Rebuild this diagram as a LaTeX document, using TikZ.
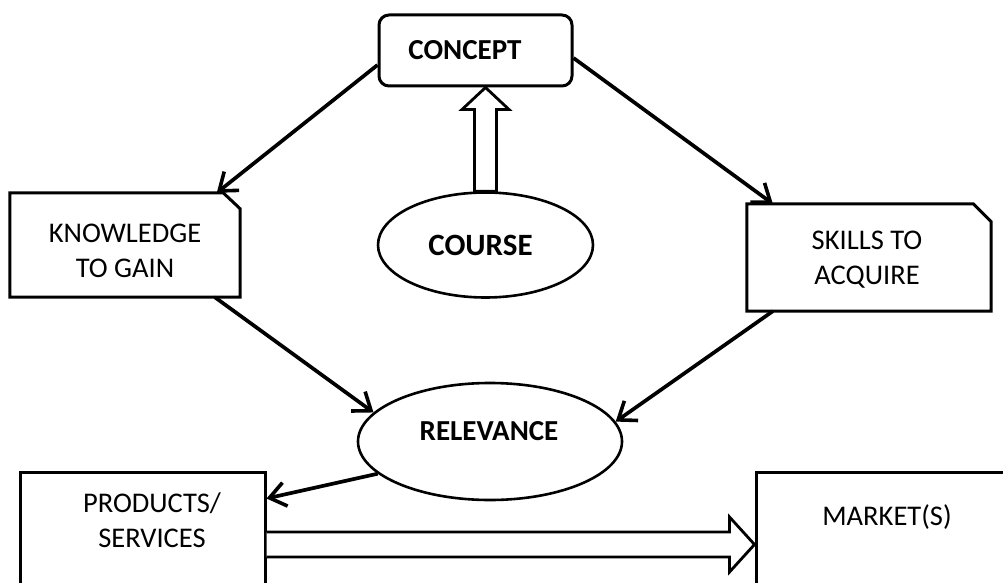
\documentclass[tikz,border=0pt]{standalone}
\usepackage{fontspec}
\setmainfont{Carlito}
\usetikzlibrary{arrows.meta,shapes.geometric,calc}
\begin{document}
\begin{tikzpicture}[x=1pt,y=-1pt,
  boxline/.style={line width=3pt},
  plainbox/.style={draw, boxline, rectangle, inner sep=0pt, fill=white},
  shapebox/.style={rectangle, inner sep=0pt},
  oval/.style={draw, line width=2.6pt, ellipse, inner sep=0pt, fill=white},
  regtext/.style={font=\fontsize{28.5}{35}\selectfont, align=center, inner sep=0pt},
  boldtext/.style={font=\fontsize{29}{35}\selectfont\bfseries, inner sep=0pt},
  link/.style={line width=3.7pt, -{Straight Barb[length=16pt,width=24pt,line width=3.6pt]}},
  hollow/.style={draw, fill=white, line width=2.8pt, line join=miter}
]
\useasboundingbox (0,0) rectangle (1003,583);
\clip (0,0) rectangle (1003,583);

% concept box at the top
\node[plainbox, rounded corners=10pt, minimum width=193pt, minimum height=71pt] (concept) at (475.5,50.5) {};
\node[boldtext, anchor=base] (concepttxt) at (465,59.5) {CONCEPT};

% course ellipse
\node[oval, minimum width=215pt, minimum height=105pt] (course) at (485.5,245) {};
\node[font=\fontsize{31}{35}\selectfont\bfseries, inner sep=0pt, anchor=base] (coursetxt) at (480.5,255) {COURSE};

% side boxes with a cut top-right corner
\node[shapebox, minimum width=230pt, minimum height=104pt] (know) at (125,245) {};
\draw[boxline, fill=white] (know.north west) -- ([xshift=-17pt]know.north east)
  -- ([yshift=-16pt]know.north east) -- (know.south east) -- (know.south west) -- cycle;
\node[regtext] (knowtxt) at (125,250.5) {KNOWLEDGE\\TO GAIN};

\node[shapebox, minimum width=244pt, minimum height=107pt] (skills) at (869,257.5) {};
\draw[boxline, fill=white] (skills.north west) -- ([xshift=-18pt]skills.north east)
  -- ([yshift=-18pt]skills.north east) -- (skills.south east) -- (skills.south west) -- cycle;
\node[regtext] (skillstxt) at (867,260) {SKILLS TO\\ACQUIRE};

% relevance ellipse
\node[oval, minimum width=264pt, minimum height=117pt] (relevance) at (490,441.5) {};
\node[boldtext, anchor=base] (relevancetxt) at (489,440) {RELEVANCE};

% bottom boxes
\node[plainbox, minimum width=245pt, minimum height=128pt] (products) at (142.5,536) {};
\node[regtext] (productstxt) at (152,520.5) {PRODUCTS/\\SERVICES};

\node[plainbox, minimum width=264pt, minimum height=128pt] (market) at (888,536) {};
\node[regtext, anchor=base] (markettxt) at (887,525) {MARKET(S)};

% connectors
\draw[link] ([yshift=-14.5pt]concept.west) -- ([xshift=207pt]know.north west);
\draw[link] ([yshift=-7.5pt]concept.east) -- ([xshift=26pt]skills.north west);
\draw[link] ([xshift=205pt]know.south west) -- (relevance.166);
\draw[link] ([xshift=26pt]skills.south west) -- (relevance.9);
\draw[link] (relevance.196) -- ([yshift=-28pt]products.north east);

% hollow arrow from course up to concept
\path (course.north) coordinate (ub);
\path (course.north |- concept.south) coordinate (ut);
\draw[hollow] ($(ub)+(-11,0)$) -- ($(ut)+(-11,22)$) -- ($(ut)+(-23.5,22)$) -- (ut)
  -- ($(ut)+(23.5,22)$) -- ($(ut)+(11,22)$) -- ($(ub)+(11,0)$) -- cycle;

% hollow arrow from products to market
\path ([yshift=-8.5pt]products.east) coordinate (rb);
\path (rb -| market.west) coordinate (rt);
\draw[hollow] ($(rb)+(0,-12.5)$) -- ($(rt)+(-25,-12.5)$) -- ($(rt)+(-25,-27.5)$) -- (rt)
  -- ($(rt)+(-25,27.5)$) -- ($(rt)+(-25,12.5)$) -- ($(rb)+(0,12.5)$);
\end{tikzpicture}
\end{document}
